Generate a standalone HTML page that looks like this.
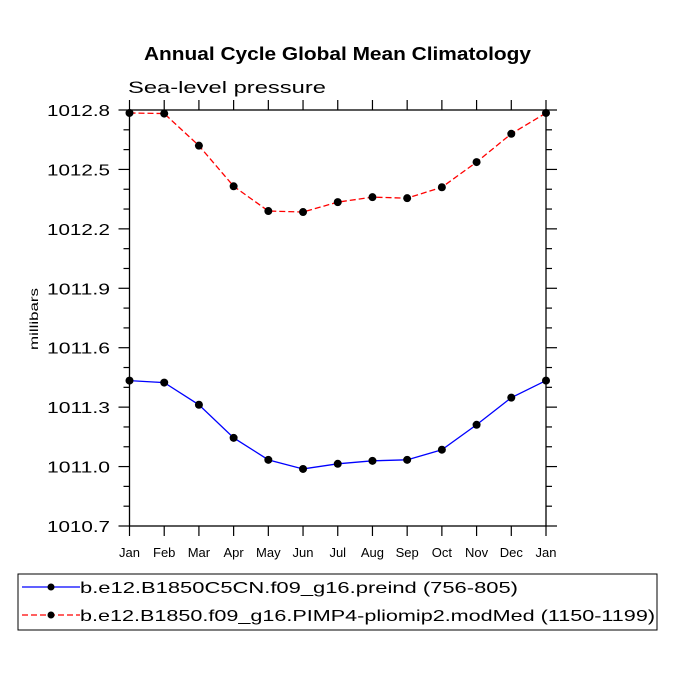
<!DOCTYPE html>
<html><head><meta charset="utf-8"><style>
body{margin:0;background:#fff;}
svg text{font-family:"Liberation Sans",sans-serif;}
</style></head><body>
<svg width="675" height="675" viewBox="0 0 675 675">
<text x="144" y="60" font-size="18" font-weight="bold" textLength="387" lengthAdjust="spacingAndGlyphs">Annual Cycle Global Mean Climatology</text>
<text x="128" y="93" font-size="17" textLength="198" lengthAdjust="spacingAndGlyphs">Sea-level pressure</text>
<text x="0" y="0" font-size="12" transform="translate(38,319) rotate(-90)" text-anchor="middle" textLength="62" lengthAdjust="spacingAndGlyphs">millibars</text>
<g id="axes"></g>
<g id="series"></g>
<g>
<rect x="18" y="574" width="639" height="56" fill="none" stroke="#000" stroke-width="1"/>
<line x1="22" y1="587" x2="80" y2="587" stroke="#0000ff" stroke-width="1.2"/>
<circle cx="51" cy="587" r="3.5" fill="#000"/>
<text x="80" y="593" font-size="16" textLength="438" lengthAdjust="spacingAndGlyphs">b.e12.B1850C5CN.f09_g16.preind (756-805)</text>
<line x1="22" y1="615" x2="80" y2="615" stroke="#ff0000" stroke-width="1.2" stroke-dasharray="6,3"/>
<circle cx="51" cy="615" r="3.5" fill="#000"/>
<text x="80" y="621" font-size="16" textLength="575" lengthAdjust="spacingAndGlyphs">b.e12.B1850.f09_g16.PIMP4-pliomip2.modMed (1150-1199)</text>
</g>
</svg>
<script>
const months=["Jan","Feb","Mar","Apr","May","Jun","Jul","Aug","Sep","Oct","Nov","Dec","Jan"];
const yTicks=[1010.7,1011.0,1011.3,1011.6,1011.9,1012.2,1012.5,1012.8];
const preind=[1011.434,1011.424,1011.312,1011.145,1011.034,1010.988,1011.014,1011.029,1011.034,1011.085,1011.211,1011.348,1011.434];
const pliomip=[1012.785,1012.782,1012.62,1012.415,1012.29,1012.285,1012.335,1012.36,1012.355,1012.41,1012.537,1012.68,1012.785];
const NS="http://www.w3.org/2000/svg";
const L=129.5,R=546,T=110,B=526,ymin=1010.7,ymax=1012.8;
function xs(i){return L+(R-L)*i/(months.length-1);}
function ys(v){return B-(v-ymin)/(ymax-ymin)*(B-T);}
function mk(tag,a,p){const e=document.createElementNS(NS,tag);for(const k in a)e.setAttribute(k,a[k]);p.appendChild(e);return e;}
const ax=document.getElementById('axes');
const fr=mk('rect',{x:L,y:T,width:R-L,height:B-T,fill:'none',stroke:'#000','stroke-width':1.3},ax);


months.forEach((m,i)=>{const x=xs(i);
mk('line',{x1:x,y1:B,x2:x,y2:B+10,stroke:'#000','stroke-width':1.2},ax);
mk('line',{x1:x,y1:T,x2:x,y2:T-10,stroke:'#000','stroke-width':1.2},ax);
const t=mk('text',{x:x,y:B+31,'text-anchor':'middle','font-size':13},ax);t.textContent=m;


});
for(let v=ymin;v<=ymax+1e-6;v+=0.1){const y=ys(v);const maj=Math.abs(Math.round(v*10)%3)===0;
const len=maj?11:6;
mk('line',{x1:L-len,y1:y,x2:L,y2:y,stroke:'#000','stroke-width':1.2},ax);
mk('line',{x1:R,y1:y,x2:R+len,y2:y,stroke:'#000','stroke-width':1.2},ax);}
yTicks.forEach(v=>{const t=mk('text',{x:47,y:ys(v)+6,'font-size':16,textLength:63,lengthAdjust:'spacingAndGlyphs'},ax);t.textContent=v.toFixed(1);


});
const sg=document.getElementById('series');
function draw(arr,color,dash,name){
const p=mk('polyline',{points:arr.map((v,i)=>xs(i)+','+ys(v)).join(' '),fill:'none',stroke:color,'stroke-width':1.3,'stroke-dasharray':dash},sg);


arr.forEach((v,i)=>{const c=mk('circle',{cx:xs(i),cy:ys(v),r:4,fill:'#000'},sg);

});
}
draw(preind,'#0000ff','none','preind');
draw(pliomip,'#ff0000','6,3','pliomip');
</script>
</body></html>
